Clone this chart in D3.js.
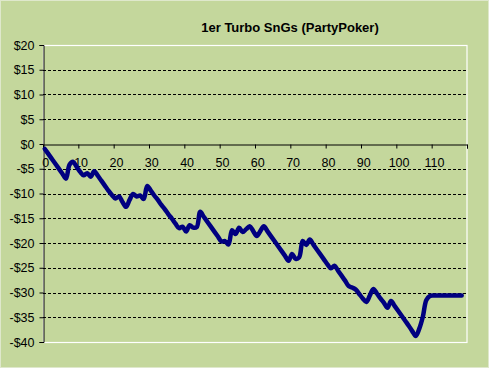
<!DOCTYPE html>
<html>
<head>
<meta charset="utf-8">
<script src="https://cdn.jsdelivr.net/npm/d3@7"></script>
<style>
  html, body { margin: 0; padding: 0; background: #c4d79c; }
  svg { display: block; }
  text { font-family: "Liberation Sans", Arial, sans-serif; }
</style>
</head>
<body>
<script>
// ---- data ----
const title = "1er Turbo SnGs (PartyPoker)";
const categoryCount = 120;
const values = [
  -1.0, -2.0, -3.0, -4.0, -5.0, -6.0, -7.0, -4.2, -3.6, -4.6,
  -5.6, -6.3, -5.9, -6.6, -5.5, -6.4, -7.4, -8.4, -9.4, -10.3,
  -11.0, -10.6, -11.7, -12.7, -11.3, -10.1, -10.6, -10.4, -11.1, -8.5,
  -9.4, -10.4, -11.3, -12.3, -13.2, -14.2, -15.1, -16.1, -17.0, -16.7,
  -17.7, -16.4, -16.9, -16.8, -13.7, -14.7, -15.7, -16.7, -17.7, -18.7,
  -19.7, -19.6, -20.3, -17.4, -18.2, -16.9, -17.8, -17.2, -16.6, -17.6,
  -18.6, -17.6, -16.6, -17.6, -18.6, -19.6, -20.6, -21.6, -22.6, -23.6,
  -22.2, -23.2, -22.9, -19.6, -20.4, -19.3, -20.3, -21.3, -22.3, -23.3,
  -24.3, -25.1, -24.6, -25.6, -26.6, -27.6, -28.7, -29.0, -29.4, -30.3,
  -31.2, -31.9, -30.6, -29.3, -30.2, -31.2, -32.1, -33.1, -31.7, -32.7,
  -33.7, -34.7, -35.7, -36.7, -37.8, -38.8, -37.3, -34.9, -31.5, -30.7,
  -30.6, -30.6, -30.6, -30.6, -30.6, -30.6, -30.6, -30.6, -30.6
];
const xTickValues = [0, 10, 20, 30, 40, 50, 60, 70, 80, 90, 100, 110, 120];
const xLabels = [0, 10, 20, 30, 40, 50, 60, 70, 80, 90, 100, 110];
const yTicks = [20, 15, 10, 5, 0, -5, -10, -15, -20, -25, -30, -35, -40];

// ---- layout ----
const W = 489, H = 368;
const pLeft = 43, pRight = 467, pTop = 45, pBottom = 342;
const bg = "#c4d79c";

const svg = d3.select("body").append("svg").attr("width", W).attr("height", H);
svg.append("rect").attr("x", 0.5).attr("y", 0.5).attr("width", W - 1).attr("height", H - 1)
  .attr("fill", bg).attr("stroke", "#dfe8cc").attr("stroke-width", 1);

const xBand = d3.scaleBand().domain(d3.range(categoryCount)).range([pLeft, pRight]).paddingInner(0).paddingOuter(0);
const xLin = d3.scaleLinear().domain([0, categoryCount]).range([pLeft, pRight]);
const y = d3.scaleLinear().domain([-40, 20]).range([pBottom, pTop]);
const cx = i => xBand(i) + xBand.bandwidth() / 2;

// plot area border (white)
svg.append("rect").attr("x", pLeft + 0.5).attr("y", pTop + 0.5)
  .attr("width", pRight - pLeft - 0.5).attr("height", pBottom - pTop)
  .attr("fill", bg).attr("stroke", "#ffffff").attr("stroke-width", 1.2);

// gridlines
svg.append("g").selectAll("line")
  .data(yTicks.filter(v => v !== 20 && v !== -40 && v !== 0))
  .join("line")
  .attr("x1", pLeft).attr("x2", pRight - 1)
  .attr("y1", d => Math.round(y(d)) + 0.5).attr("y2", d => Math.round(y(d)) + 0.5)
  .attr("stroke", "#000").attr("stroke-width", 1).attr("stroke-dasharray", "3,2");

// y axis
const yAxis = d3.axisLeft(y).tickValues(yTicks).tickSize(4).tickPadding(5)
  .tickFormat(d => (d < 0 ? "-$" : "$") + Math.abs(d));
const gy = svg.append("g").attr("transform", `translate(${pLeft + 0.5},0)`).call(yAxis);
gy.select(".domain").attr("stroke", "#000");
gy.selectAll(".tick line").attr("stroke", "#000");
gy.selectAll("text").attr("font-size", 12.5).attr("fill", "#000")
  .attr("font-family", "Liberation Sans, Arial, sans-serif");

// x axis at y = 0
const y0 = Math.round(y(0)) + 0.5;
const xAxis = d3.axisBottom(xLin).tickValues(xTickValues).tickSize(4).tickFormat("");
const gx = svg.append("g").attr("transform", `translate(0,${y0})`).call(xAxis);
gx.select(".domain").attr("stroke", "#000");
gx.selectAll(".tick line").attr("stroke", "#000");

// x labels at category centers
svg.append("g").selectAll("text").data(xLabels).join("text")
  .attr("x", d => cx(d) + 1).attr("y", 167)
  .attr("text-anchor", "middle").attr("font-size", 12.5).attr("fill", "#000")
  .text(d => d);

// line
const line = d3.line().x((d, i) => cx(i)).y(d => y(d)).curve(d3.curveCatmullRom.alpha(0.5));
svg.append("path").datum(values).attr("d", line)
  .attr("fill", "none").attr("stroke", "#000080").attr("stroke-width", 4.5)
  .attr("stroke-linejoin", "round").attr("stroke-linecap", "round");

// title
svg.append("text").attr("x", 290).attr("y", 32).attr("text-anchor", "middle")
  .attr("font-size", 13).attr("font-weight", "bold").attr("fill", "#000")
  .text(title);
</script>
</body>
</html>
